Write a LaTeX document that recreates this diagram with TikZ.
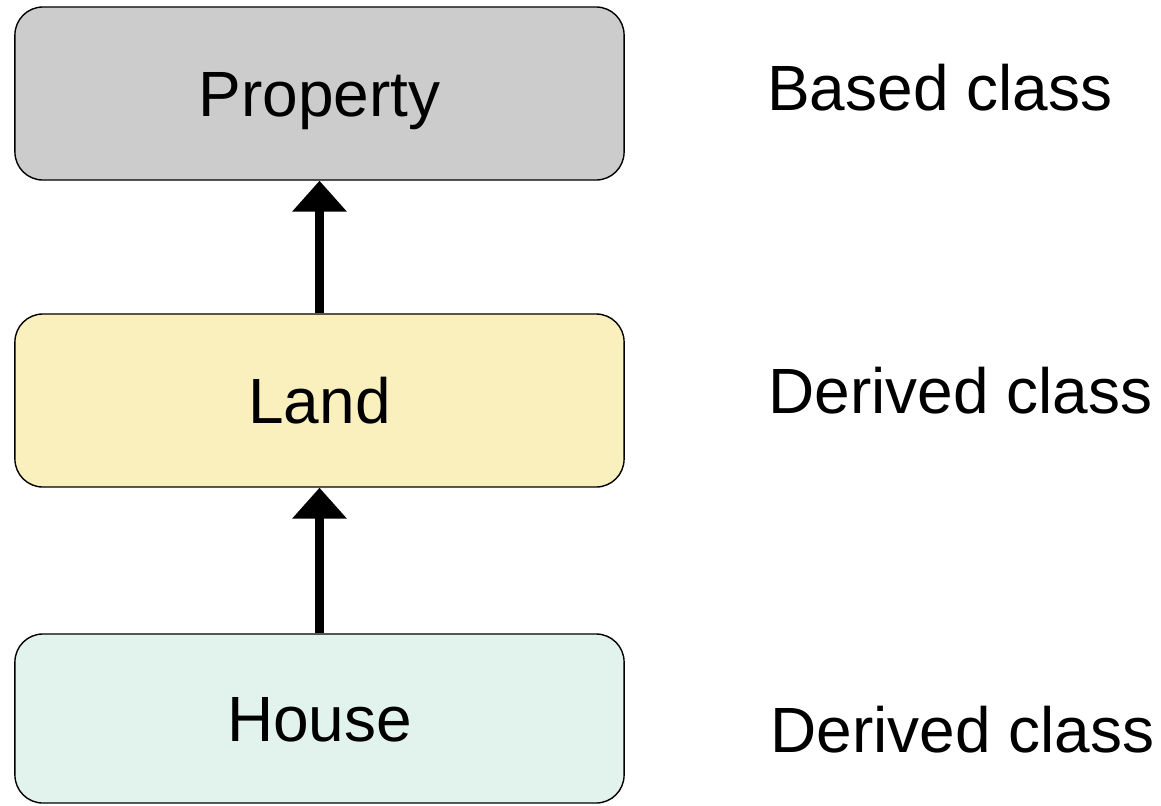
\documentclass[tikz,border=0pt]{standalone}
\usepackage{fontspec}
\setmainfont{Liberation Sans}
\usetikzlibrary{arrows.meta}
\definecolor{propgray}{RGB}{204,204,204}
\definecolor{landyellow}{RGB}{250,240,190}
\definecolor{housegreen}{RGB}{226,243,237}

\begin{document}
\begin{tikzpicture}[x=0.025cm, y=-0.025cm,
	classbox/.style={draw=black, line width=1pt, rounded corners=0.7cm, minimum width=15.225cm, minimum height=4.325cm, font=\fontsize{45.5}{54}\selectfont, text height=32.6pt, text depth=0pt},
	tag/.style={anchor=base west, inner sep=0pt, font=\fontsize{45.5}{54}\selectfont},
	inherit/.style={-{Triangle[width=1.325cm, length=0.775cm]}, line width=0.225cm}]
				\useasboundingbox (0,0) rectangle (1161,805);

				\node[classbox, fill=propgray] (property) at (319.5,93.5) {Property};
				\node[classbox, fill=landyellow] (land) at (319.5,400.5) {Land};
				\node[classbox, fill=housegreen, minimum height=4.225cm] (house) at (319.5,718.5) {House};

				\node[tag] (basedtag) at (767,110) {Based class};
				\node[tag] (landtag) at (768,413) {Derived class};
				\node[tag] (housetag) at (770,752) {Derived class};

				\draw[inherit] (land) -- (property);
				\draw[inherit] (house) -- (land);

			\end{tikzpicture}
\end{document}
